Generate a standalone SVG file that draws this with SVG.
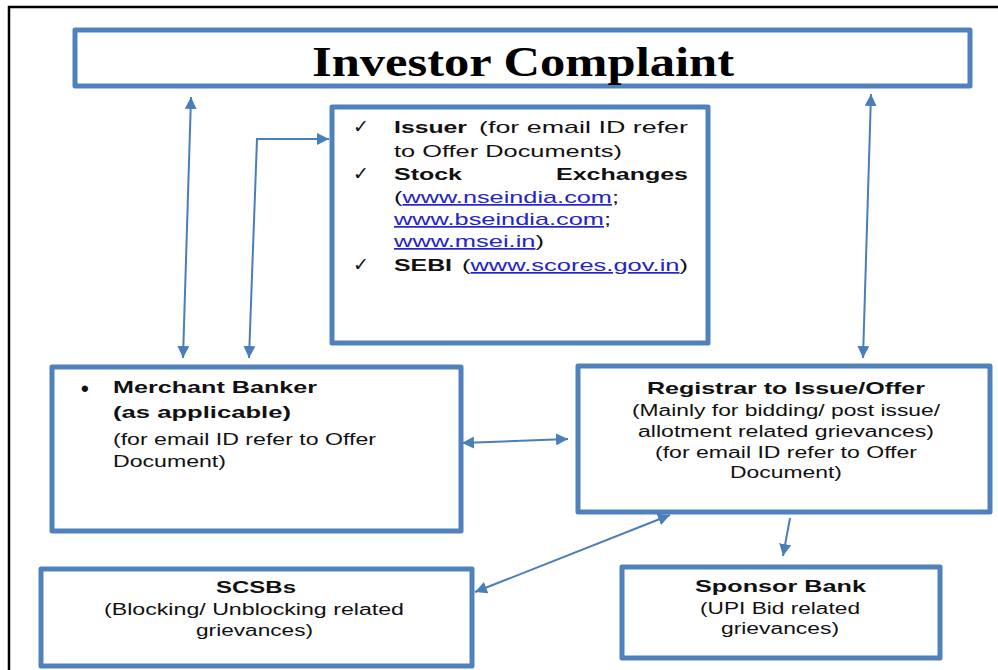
<svg xmlns="http://www.w3.org/2000/svg" width="998" height="670" viewBox="0 0 998 670">
<style>
.box{fill:#fff;stroke:#4F81BD;stroke-width:5;stroke-linejoin:round}
.frame{stroke:#000;stroke-width:2.5;fill:none}
.con{stroke:#4A7EBB;stroke-width:2;fill:none}
text{font-family:"Liberation Sans",Arial,sans-serif;fill:#111;}
.b{font-weight:bold;font-size:17px}
.r{font-size:17px}
.s{font-size:15.8px}
.title{font-family:"Liberation Serif","Times New Roman",serif;font-weight:bold;font-size:42px;fill:#000}
.link{fill:#2424C8;text-decoration:underline}
.chk{font-family:"DejaVu Sans",sans-serif;font-size:19px}
.bul{font-size:22px;font-weight:bold}
</style>
<defs>
<marker id="ah" viewBox="0 0 10 10" refX="10" refY="5" markerWidth="12" markerHeight="12" markerUnits="userSpaceOnUse" orient="auto-start-reverse">
<path d="M0,0 L10,5 L0,10 z" fill="#4A7EBB"/>
</marker>
</defs>
<rect width="998" height="670" fill="#fff"/>
<g id="frame">
<path class="frame" d="M9,670 L9,7 L998,7"/>
</g>
<g id="investor">
<rect class="box" x="75" y="30" width="895" height="56"/>
<text class="title" x="312" y="76" textLength="422" lengthAdjust="spacingAndGlyphs">Investor Complaint</text>
</g>
<g id="issuer">
<rect class="box" x="332" y="107" width="376" height="236"/>
<text class="chk" x="353" y="133">✓</text>
<text class="b" x="394" y="133" textLength="73" lengthAdjust="spacingAndGlyphs">Issuer</text>
<text class="r" x="479" y="133" textLength="209" lengthAdjust="spacingAndGlyphs">(for email ID refer</text>
<text class="r" x="394" y="157" textLength="228" lengthAdjust="spacingAndGlyphs">to Offer Documents)</text>
<text class="chk" x="353" y="180">✓</text>
<text class="b" x="394" y="180" textLength="68" lengthAdjust="spacingAndGlyphs">Stock</text>
<text class="b" x="556" y="180" textLength="132" lengthAdjust="spacingAndGlyphs">Exchanges</text>
<text class="r" x="394" y="203" textLength="225" lengthAdjust="spacingAndGlyphs">(<tspan class="link">www.nseindia.com</tspan>;</text>
<text class="r" x="394" y="225" textLength="217" lengthAdjust="spacingAndGlyphs"><tspan class="link">www.bseindia.com</tspan>;</text>
<text class="r" x="394" y="247" textLength="150" lengthAdjust="spacingAndGlyphs"><tspan class="link">www.msei.in</tspan>)</text>
<text class="chk" x="353" y="271">✓</text>
<text class="b" x="394" y="271" textLength="58" lengthAdjust="spacingAndGlyphs">SEBI</text>
<text class="r" x="462" y="271" textLength="226" lengthAdjust="spacingAndGlyphs">(<tspan class="link">www.scores.gov.in</tspan>)</text>
</g>
<g id="merchant">
<rect class="box" x="52" y="367" width="409" height="164"/>
<text class="bul" x="81" y="396">•</text>
<text class="b" x="113" y="393" textLength="204" lengthAdjust="spacingAndGlyphs">Merchant Banker</text>
<text class="b" x="113" y="418" textLength="178" lengthAdjust="spacingAndGlyphs">(as applicable)</text>
<text class="s" x="113" y="445" textLength="263" lengthAdjust="spacingAndGlyphs">(for email ID refer to Offer</text>
<text class="s" x="113" y="467" textLength="113" lengthAdjust="spacingAndGlyphs">Document)</text>
</g>
<g id="registrar">
<rect class="box" x="578" y="366" width="412" height="146"/>
<text class="b" x="647" y="394" textLength="278" lengthAdjust="spacingAndGlyphs">Registrar to Issue/Offer</text>
<text class="s" x="632" y="416" textLength="308" lengthAdjust="spacingAndGlyphs">(Mainly for bidding/ post issue/</text>
<text class="s" x="638" y="437" textLength="296" lengthAdjust="spacingAndGlyphs">allotment related grievances)</text>
<text class="s" x="655" y="458" textLength="262" lengthAdjust="spacingAndGlyphs">(for email ID refer to Offer</text>
<text class="s" x="730" y="478" textLength="112" lengthAdjust="spacingAndGlyphs">Document)</text>
</g>
<g id="scsbs">
<rect class="box" x="41" y="569" width="431" height="97"/>
<text class="b" x="216" y="593" textLength="80" lengthAdjust="spacingAndGlyphs">SCSBs</text>
<text class="s" x="104" y="615" textLength="300" lengthAdjust="spacingAndGlyphs">(Blocking/ Unblocking related</text>
<text class="s" x="196" y="636" textLength="117" lengthAdjust="spacingAndGlyphs">grievances)</text>
</g>
<g id="sponsor">
<rect class="box" x="622" y="567" width="318" height="91"/>
<text class="b" x="695" y="592" textLength="171" lengthAdjust="spacingAndGlyphs">Sponsor Bank</text>
<text class="s" x="700" y="614" textLength="160" lengthAdjust="spacingAndGlyphs">(UPI Bid related</text>
<text class="s" x="721" y="634" textLength="118" lengthAdjust="spacingAndGlyphs">grievances)</text>
</g>
<g id="connectors">
<path class="con" d="M191,97 L183,358" marker-start="url(#ah)" marker-end="url(#ah)"/>
<path class="con" d="M249,358 L257,139 L329,139" marker-start="url(#ah)" marker-end="url(#ah)"/>
<path class="con" d="M871,94 L863,358" marker-start="url(#ah)" marker-end="url(#ah)"/>
<path class="con" d="M462,443 L568,439" marker-start="url(#ah)" marker-end="url(#ah)"/>
<path class="con" d="M670,515 L475,592" marker-start="url(#ah)" marker-end="url(#ah)"/>
<path class="con" d="M790,518 L783,556" marker-end="url(#ah)"/>
</g>
</svg>
